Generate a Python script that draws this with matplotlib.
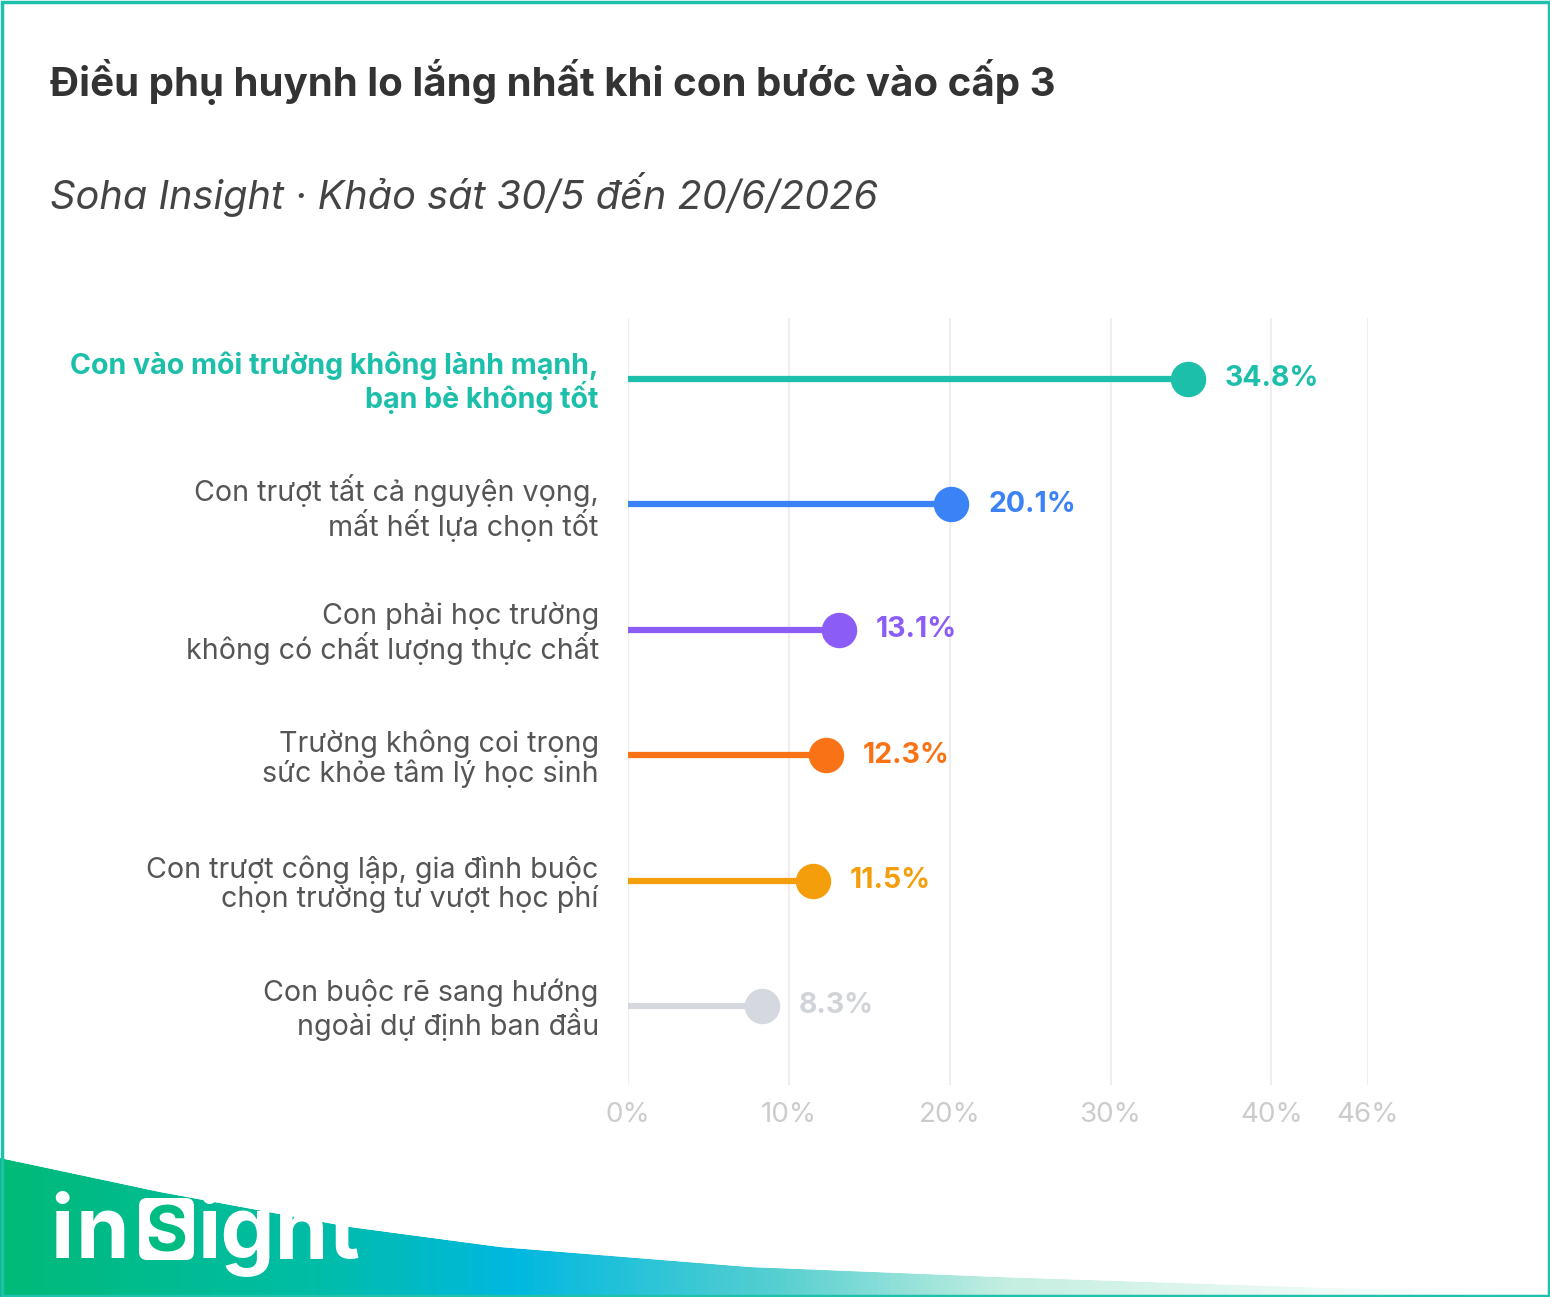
import numpy as np
import matplotlib.pyplot as plt
from matplotlib.patches import Polygon, FancyBboxPatch, Rectangle
from matplotlib.colors import LinearSegmentedColormap

plt.rcParams['font.family'] = ['Inter', 'DejaVu Sans']

# du lieu
categories = [
    "Con vào môi trường không lành mạnh,\nbạn bè không tốt",
    "Con trượt tất cả nguyện vọng,\nmất hết lựa chọn tốt",
    "Con phải học trường\nkhông có chất lượng thực chất",
    "Trường không coi trọng\nsức khỏe tâm lý học sinh",
    "Con trượt công lập, gia đình buộc\nchọn trường tư vượt học phí",
    "Con buộc rẽ sang hướng\nngoài dự định ban đầu",
]
values = [34.8, 20.1, 13.1, 12.3, 11.5, 8.3]
colors = ["#1cbfa9", "#3b82f6", "#8b5cf6", "#f97316", "#f59e0b", "#d5d8de"]
label_colors = ["#1cbfa9", "#3b82f6", "#8b5cf6", "#f97316", "#f59e0b", "#d0d3d8"]
xticks = [0, 10, 20, 30, 40, 46]
xtick_labels = ["0%", "10%", "20%", "30%", "40%", "46%"]

title = "Điều phụ huynh lo lắng nhất khi con bước vào cấp 3"
subtitle = "Soha Insight · Khảo sát 30/5 đến 20/6/2026"

W, H = 1550, 1297
fig = plt.figure(figsize=(W / 100, H / 100), dpi=100)

# nen + khung + logo (toa do pixel)
bg = fig.add_axes([0, 0, 1, 1])
bg.set_xlim(0, W)
bg.set_ylim(H, 0)
bg.axis('off')

# vung gradient duoi
ex = [0, 160, 350, 500, 750, 1000, 1300, 1450, 1550]
ey = [1158, 1192, 1227, 1247, 1267, 1277, 1287, 1291, 1293]
poly = Polygon([(0, H)] + list(zip(ex, ey)) + [(W, H)], closed=True,
               facecolor='none', edgecolor='none')
bg.add_patch(poly)
grad_cmap = LinearSegmentedColormap.from_list('ins', [
    (0.0, "#00ba78"), (0.2, "#00bda6"), (0.33, "#00b8e0"),
    (0.5, "#55cfd0"), (0.65, "#c4efe0"), (0.85, "#eefaf5"), (1.0, "#ffffff")])
grad = np.linspace(0, 1, 512).reshape(1, -1)
im = bg.imshow(grad, cmap=grad_cmap, extent=[0, W, H, 1150], aspect='auto', zorder=1)
im.set_clip_path(poly)

# logo inSight
bg.text(50, 1258, "i", color='white', fontsize=62, fontweight='bold',
        va='baseline', ha='left', zorder=3)
bg.text(76, 1258, "n", color='white', fontsize=62, fontweight='bold',
        va='baseline', ha='left', zorder=3)
bg.add_patch(FancyBboxPatch((139, 1198), 55, 62, boxstyle="round,pad=0,rounding_size=8",
                            facecolor='white', edgecolor='none', zorder=3))
bg.text(166, 1251, "S", color='#00bb82', fontsize=46, fontweight='bold',
        va='baseline', ha='center', zorder=4)
bg.text(197, 1258, "ight", color='white', fontsize=62, fontweight='bold',
        va='baseline', ha='left', zorder=3)
# che phan chu ngoai vung gradient
mask = Polygon([(0, 1150), (0, 1158)] + list(zip(ex, ey))[1:] + [(W, 1150)], closed=True,
               facecolor='white', edgecolor='none', zorder=5)
bg.add_patch(mask)

# khung vien
bg.add_patch(Rectangle((1.5, 1.5), W - 3, H - 3, fill=False, edgecolor='#1fc1ad',
                       linewidth=2.5, zorder=10))

# tieu de
bg.text(50, 96, title, fontsize=29, fontweight='bold', color='#333333',
        va='baseline', ha='left')
bg.text(50, 209, subtitle, fontsize=28.6, fontstyle='italic',
        color='#444444', va='baseline', ha='left')

# bieu do chinh
ax = fig.add_axes([628 / W, 1 - 1085 / H, 740 / W, (1085 - 318) / H])
ax.set_xlim(0, 46)
ax.set_ylim(5.63, -0.486)
for s in ax.spines.values():
    s.set_visible(False)

for t in xticks:
    ax.axvline(t, color='#eeeeee', linewidth=1.5, zorder=0)

y = np.arange(len(values))
for i, v in enumerate(values):
    ax.hlines(y[i], 0, v, color=colors[i], linewidth=4.5, zorder=2)
    ax.plot(v, y[i], 'o', color=colors[i], markersize=24.5, zorder=3)
    ax.annotate(f"{v}%", (v, y[i]), xytext=(37, 0), textcoords='offset pixels',
                color=label_colors[i], fontsize=20.5, fontweight='bold',
                va='center', ha='left')

ax.set_yticks(y)
ax.set_yticklabels(categories, fontsize=20.6, color='#555555', linespacing=1.05)
ax.tick_params(axis='y', length=0, pad=21)
labels = ax.get_yticklabels()
labels[0].set_color(colors[0])
labels[0].set_fontweight('bold')

ax.set_xticks(xticks)
ax.set_xticklabels(xtick_labels, fontsize=20, color='#cccccc')
ax.tick_params(axis='x', length=0, pad=12)

fig.savefig("out.png", dpi=100, facecolor='white')
